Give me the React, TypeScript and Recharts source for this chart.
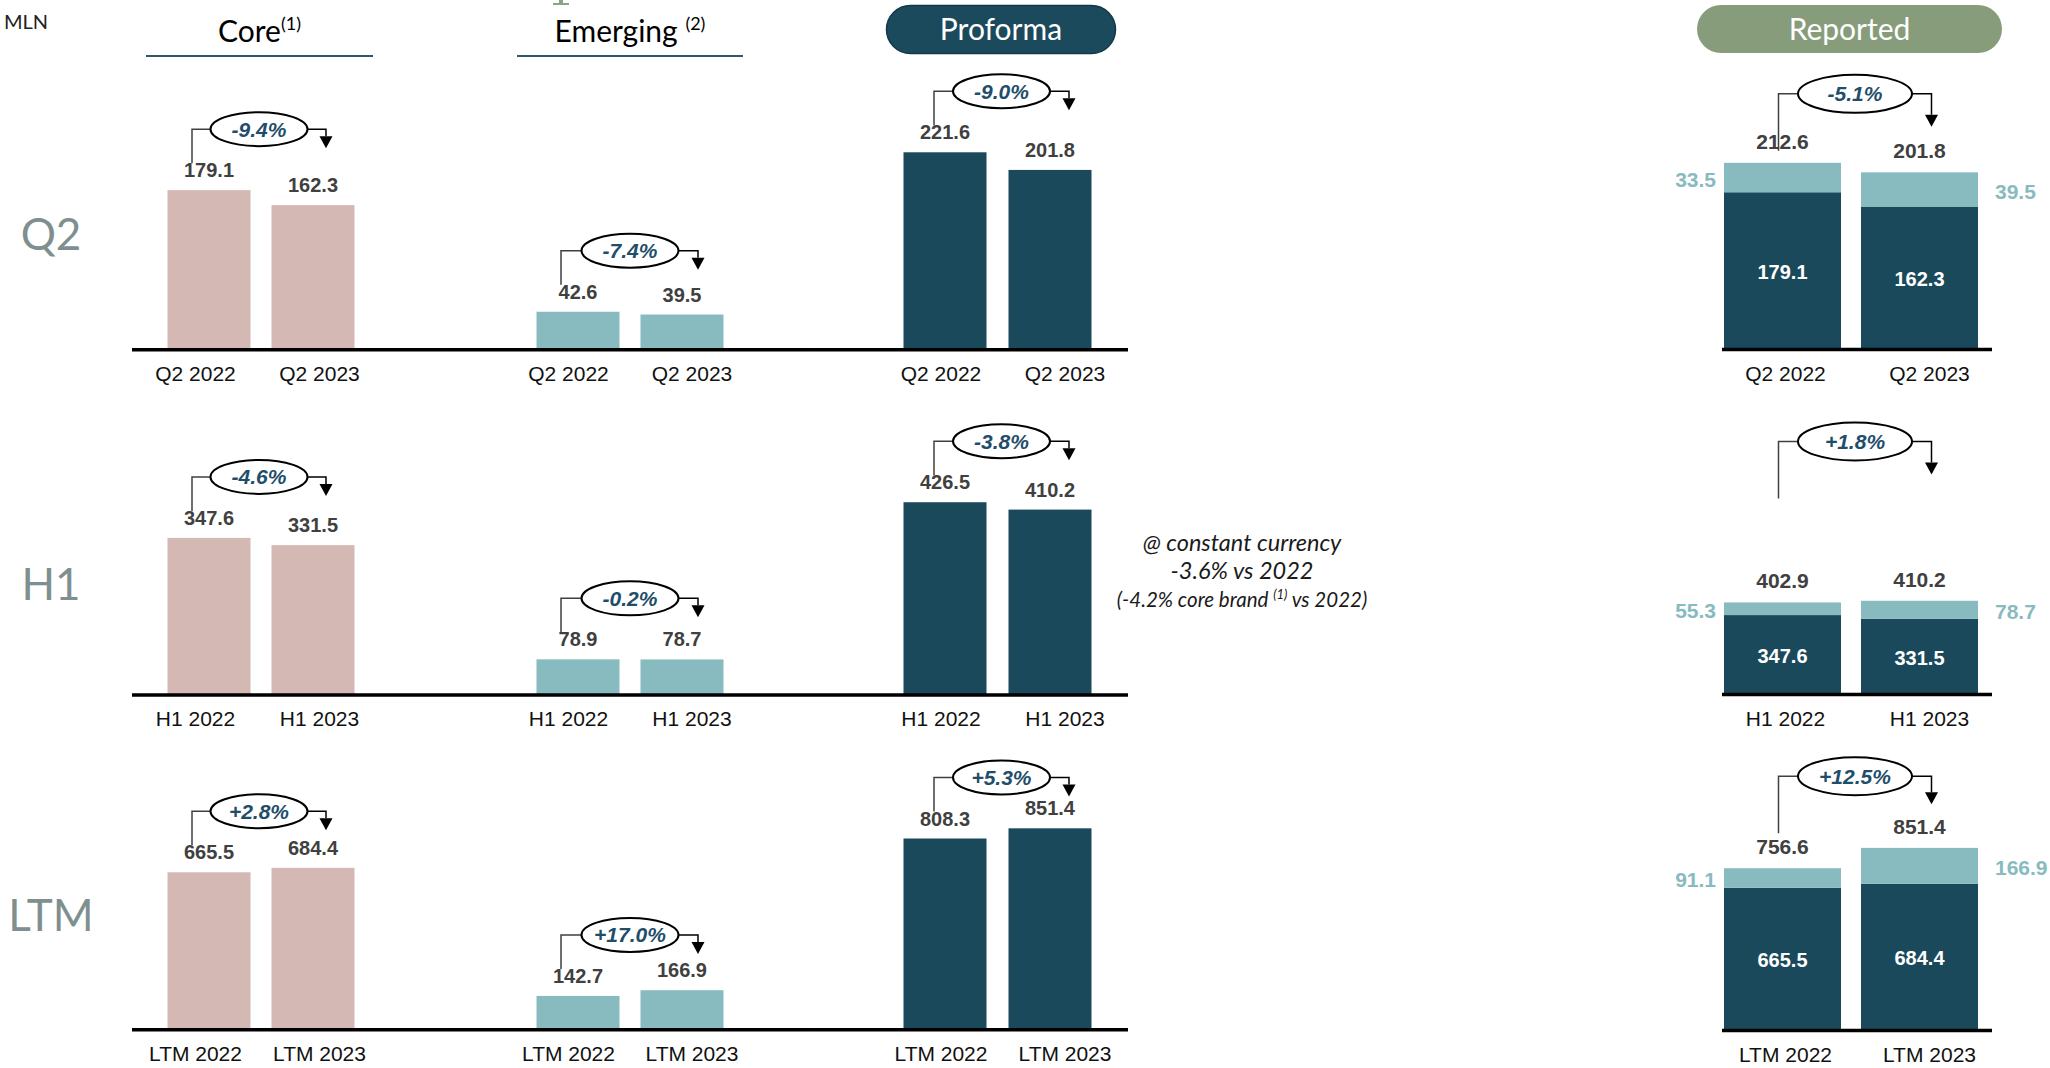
import React from "react";
import { BarChart, Bar, XAxis, YAxis } from "recharts";

// ---------- data ----------
const periods = ["Q2", "H1", "LTM"];
const q2Ticks = ["Q2 2022", "Q2 2023"];
const h1Ticks = ["H1 2022", "H1 2023"];
const ltmTicks = ["LTM 2022", "LTM 2023"];

const coreQ2 = [179.1, 162.3];
const coreH1 = [347.6, 331.5];
const coreLTM = [665.5, 684.4];
const emergingQ2 = [42.6, 39.5];
const emergingH1 = [78.9, 78.7];
const emergingLTM = [142.7, 166.9];
const proformaQ2 = [221.6, 201.8];
const proformaH1 = [426.5, 410.2];
const proformaLTM = [808.3, 851.4];

const reportedCoreQ2 = [179.1, 162.3];
const reportedCoreH1 = [347.6, 331.5];
const reportedCoreLTM = [665.5, 684.4];
const reportedEmergingQ2 = [33.5, 39.5];
const reportedEmergingH1 = [55.3, 78.7];
const reportedEmergingLTM = [91.1, 166.9];
const reportedTotalQ2 = [212.6, 201.8];
const reportedTotalH1 = [402.9, 410.2];
const reportedTotalLTM = [756.6, 851.4];

const coreChange = ["-9.4%", "-4.6%", "+2.8%"];
const emergingChange = ["-7.4%", "-0.2%", "+17.0%"];
const proformaChange = ["-9.0%", "-3.8%", "+5.3%"];
const reportedChange = ["-5.1%", "+1.8%", "+12.5%"];

const noteLines = ["@ constant currency", "-3.6% vs 2022"];

// ---------- styles / layout ----------
const ARIAL = "'Liberation Sans', Arial, sans-serif";
const CAL = "Lato, 'Open Sans', sans-serif";
const CORE_COLOR = "#D3B8B3";
const EMERGING_COLOR = "#88BBC0";
const DARK_COLOR = "#1B495C";
const VALUE_COLOR = "#404040";
const PCT_COLOR = "#1F4E6A";

const MT = 200; // top margin inside each chart
const MS = 70; // side margin
const XH = 50; // x axis height

const rowLayout = [
  { bottom: 349.5, plotH: 222.7, yMax: 250, repBottom: 349.5, repH: 219.5, repMax: 250, labelY: 249.5 },
  { bottom: 694.5, plotH: 226, yMax: 500, repBottom: 694, repH: 228.5, repMax: 1000, labelY: 600 },
  { bottom: 1030, plotH: 224.7, yMax: 950, repBottom: 1030, repH: 214.5, repMax: 1000, labelY: 930.5 },
];

const coreLayout = { plotLeft: 132, plotRight: 445, padL: 24.5, padR: 80.5, barSize: 83, tickDx: [-13, 7], stemDx: -17, arrowDx: 13, ellDx: -2 };
const emergingLayout = { plotLeft: 445, plotRight: 813, padL: 80.5, padR: 79.5, barSize: 83, tickDx: [-9, 10.5], stemDx: -17, arrowDx: 16, ellDx: 0 };
const proformaLayout = { plotLeft: 813, plotRight: 1128, padL: 79.5, padR: 25.5, barSize: 83, tickDx: [-4, 15], stemDx: -11, arrowDx: 19, ellDx: 4 };
const reportedLayout = { plotLeft: 1722, plotRight: 1992, padL: -8, padR: 4, barSize: 117, tickDx: [3, 10], stemDx: -4, arrowDx: 12, ellDx: 4 };

const leftBracket = { rise: 61, stemGap: 27, arrowLen: 19, rx: 48.5, ry: 17 };
const repBracket = [
  { rise: 69, stemGap: 12, arrowLen: 33, rx: 57, ry: 19 },
  { rise: 161, stemGap: 104, arrowLen: 33, rx: 57, ry: 19 },
  { rise: 92, stemGap: 35, arrowLen: 28, rx: 57, ry: 19 },
];

function Bracket({ x1, top, step, cfg, layout, label }: any) {
  const hy = top - cfg.rise;
  const stemX = x1 + layout.stemDx;
  const ecx = x1 + step / 2 + layout.ellDx;
  const ax = x1 + step + layout.arrowDx;
  const tipY = hy + cfg.arrowLen;
  return (
    <g>
      <polyline
        points={`${stemX},${top - cfg.stemGap} ${stemX},${hy} ${ecx - cfg.rx},${hy}`}
        fill="none"
        stroke="#404040"
        strokeWidth={1.5}
      />
      <polyline
        points={`${ecx + cfg.rx},${hy} ${ax},${hy} ${ax},${tipY - 12}`}
        fill="none"
        stroke="#000"
        strokeWidth={1.5}
      />
      <polygon points={`${ax - 6.5},${tipY - 12} ${ax + 6.5},${tipY - 12} ${ax},${tipY}`} fill="#000" />
      <ellipse cx={ecx} cy={hy} rx={cfg.rx} ry={cfg.ry} fill="#fff" stroke="#000" strokeWidth={2} />
      <text
        x={ecx}
        y={hy + 7.5}
        textAnchor="middle"
        fontFamily={ARIAL}
        fontStyle="italic"
        fontWeight="bold"
        fontSize={21}
        fill={PCT_COLOR}
      >
        {label}
      </text>
    </g>
  );
}

function makeTick(dx: number[], yPos: number) {
  return (props: any) => {
    const { x, payload, index } = props;
    return (
      <text x={x + (dx[index] || 0)} y={yPos} textAnchor="middle" fontFamily={ARIAL} fontSize={21} fill="#111">
        {payload.value}
      </text>
    );
  };
}

function bandStep(layout: any) {
  return (layout.plotRight - layout.plotLeft - layout.padL - layout.padR) / 2;
}

function SimplePanel({ ticks, values, change, color, layout, row }: any) {
  const data = ticks.map((t: string, i: number) => ({ name: t, value: values[i] }));
  const width = layout.plotRight - layout.plotLeft + 2 * MS;
  const height = MT + row.plotH + XH;
  const step = bandStep(layout);
  const shape = (p: any) => {
    const { x, y, width: w, height: h, index, payload } = p;
    const cx = x + w / 2;
    return (
      <g>
        <rect x={x} y={y} width={w} height={h} fill={color} />
        <text x={cx} y={y - 13} textAnchor="middle" fontFamily={ARIAL} fontWeight="bold" fontSize={20} fill={VALUE_COLOR}>
          {payload.value.toFixed(1)}
        </text>
        {index === 0 ? <Bracket x1={cx} top={y} step={step} cfg={leftBracket} layout={layout} label={change} /> : null}
      </g>
    );
  };
  return (
    <div style={{ position: "absolute", left: layout.plotLeft - MS, top: row.bottom - row.plotH - MT }}>
      <BarChart width={width} height={height} data={data} margin={{ top: MT, right: MS, bottom: 0, left: MS }}>
        <XAxis
          dataKey="name"
          height={XH}
          interval={0}
          axisLine={{ stroke: "#000", strokeWidth: 3.5 }}
          tickLine={false}
          padding={{ left: layout.padL, right: layout.padR }}
          tick={makeTick(layout.tickDx, MT + row.plotH + 31)}
        />
        <YAxis hide domain={[0, row.yMax]} tickCount={2} />
        <Bar dataKey="value" fill={color} barSize={layout.barSize} isAnimationActive={false} shape={shape} />
      </BarChart>
    </div>
  );
}

function ReportedPanel({ ticks, core, emerging, totals, change, row, cfg }: any) {
  const layout = reportedLayout;
  const data = ticks.map((t: string, i: number) => ({ name: t, core: core[i], emerging: emerging[i], total: totals[i] }));
  const width = layout.plotRight - layout.plotLeft + 2 * MS;
  const height = MT + row.repH + XH;
  const step = bandStep(layout);
  const darkShape = (p: any) => {
    const { x, y, width: w, height: h, payload } = p;
    return (
      <g>
        <rect x={x} y={y} width={w} height={h} fill={DARK_COLOR} />
        <text x={x + w / 2} y={y + h / 2 + 8} textAnchor="middle" fontFamily={ARIAL} fontWeight="bold" fontSize={20} fill="#fff">
          {payload.core.toFixed(1)}
        </text>
      </g>
    );
  };
  const lightShape = (p: any) => {
    const { x, y, width: w, height: h, index, payload } = p;
    const cx = x + w / 2;
    return (
      <g>
        <rect x={x} y={y} width={w} height={h} fill={EMERGING_COLOR} />
        <text
          x={index === 0 ? x - 8 : x + w + 17}
          y={y + h / 2 + 9}
          textAnchor={index === 0 ? "end" : "start"}
          fontFamily={ARIAL}
          fontWeight="bold"
          fontSize={21}
          fill={EMERGING_COLOR}
        >
          {payload.emerging.toFixed(1)}
        </text>
        <text x={cx} y={y - 14} textAnchor="middle" fontFamily={ARIAL} fontWeight="bold" fontSize={21} fill={VALUE_COLOR}>
          {payload.total.toFixed(1)}
        </text>
        {index === 0 ? <Bracket x1={cx} top={y} step={step} cfg={cfg} layout={layout} label={change} /> : null}
      </g>
    );
  };
  return (
    <div style={{ position: "absolute", left: layout.plotLeft - MS, top: row.repBottom - row.repH - MT }}>
      <BarChart width={width} height={height} data={data} margin={{ top: MT, right: MS, bottom: 0, left: MS }}>
        <XAxis
          dataKey="name"
          height={XH}
          interval={0}
          axisLine={{ stroke: "#000", strokeWidth: 3.5 }}
          tickLine={false}
          padding={{ left: layout.padL, right: layout.padR }}
          tick={makeTick(layout.tickDx, MT + row.repH + 31)}
        />
        <YAxis hide domain={[0, row.repMax]} tickCount={2} />
        <Bar dataKey="core" stackId="r" fill={DARK_COLOR} barSize={layout.barSize} isAnimationActive={false} shape={darkShape} />
        <Bar dataKey="emerging" stackId="r" fill={EMERGING_COLOR} barSize={layout.barSize} isAnimationActive={false} shape={lightShape} />
      </BarChart>
    </div>
  );
}

function Overlay() {
  return (
    <svg width={2050} height={1068} style={{ position: "absolute", left: 0, top: 0 }}>
      {/* cut-off glyph at top */}
      <rect x={559} y={0} width={4} height={4} fill="#8AA585" />
      <rect x={553} y={3} width={16} height={2} fill="#8AA585" />
      <text x={4} y={29} fontFamily={CAL} fontSize={20} fill="#222">MLN</text>
      <text x={259.5} y={42} textAnchor="middle" fontFamily={CAL} fontSize={30} fill="#000">
        Core<tspan dy={-12} fontSize={18}>(1)</tspan>
      </text>
      <line x1={146} x2={373} y1={56} y2={56} stroke="#2F5868" strokeWidth={2} />
      <text x={630} y={42} textAnchor="middle" fontFamily={CAL} fontSize={30} fill="#000">
        Emerging <tspan dy={-12} fontSize={18}>(2)</tspan>
      </text>
      <line x1={517} x2={743} y1={56} y2={56} stroke="#2F5868" strokeWidth={2} />
      <rect x={886.5} y={5.5} width={229} height={48} rx={24} fill="#1B4A5C" stroke="#12394A" strokeWidth={1.5} />
      <text x={1001} y={40} textAnchor="middle" fontFamily={CAL} fontSize={30} fill="#fff">Proforma</text>
      <rect x={1697} y={5} width={305} height={48} rx={24} fill="#879C7A" />
      <text x={1849.5} y={40} textAnchor="middle" fontFamily={CAL} fontSize={30} fill="#fff">Reported</text>
      {periods.map((p, i) => (
        <text key={p} x={51} y={rowLayout[i].labelY} textAnchor="middle" fontFamily={CAL} fontSize={44} fill="#7F8F8F">
          {p}
        </text>
      ))}
      <text x={1242} y={551} textAnchor="middle" fontFamily={CAL} fontStyle="italic" fontSize={23.5} fill="#1a1a1a">
        {noteLines[0]}
      </text>
      <text x={1242} y={579} textAnchor="middle" fontFamily={CAL} fontStyle="italic" fontSize={23.5} fill="#1a1a1a">
        {noteLines[1]}
      </text>
      <text x={1242} y={607} textAnchor="middle" fontFamily={CAL} fontStyle="italic" fontSize={20.5} fill="#1a1a1a">
        (-4.2% core brand <tspan dy={-8} fontSize={13}>(1)</tspan>
        <tspan dy={8}> vs 2022)</tspan>
      </text>
    </svg>
  );
}

export default function App() {
  const ticksByRow = [q2Ticks, h1Ticks, ltmTicks];
  const coreByRow = [coreQ2, coreH1, coreLTM];
  const emergingByRow = [emergingQ2, emergingH1, emergingLTM];
  const proformaByRow = [proformaQ2, proformaH1, proformaLTM];
  const repCoreByRow = [reportedCoreQ2, reportedCoreH1, reportedCoreLTM];
  const repEmByRow = [reportedEmergingQ2, reportedEmergingH1, reportedEmergingLTM];
  const repTotByRow = [reportedTotalQ2, reportedTotalH1, reportedTotalLTM];
  return (
    <div style={{ position: "absolute", left: 0, top: 0, width: 2050, height: 1068, background: "#fff", overflow: "hidden" }}>
      <Overlay />
      {periods.map((p, i) => (
        <React.Fragment key={p}>
          <SimplePanel ticks={ticksByRow[i]} values={coreByRow[i]} change={coreChange[i]} color={CORE_COLOR} layout={coreLayout} row={rowLayout[i]} />
          <SimplePanel ticks={ticksByRow[i]} values={emergingByRow[i]} change={emergingChange[i]} color={EMERGING_COLOR} layout={emergingLayout} row={rowLayout[i]} />
          <SimplePanel ticks={ticksByRow[i]} values={proformaByRow[i]} change={proformaChange[i]} color={DARK_COLOR} layout={proformaLayout} row={rowLayout[i]} />
          <ReportedPanel
            ticks={ticksByRow[i]}
            core={repCoreByRow[i]}
            emerging={repEmByRow[i]}
            totals={repTotByRow[i]}
            change={reportedChange[i]}
            row={rowLayout[i]}
            cfg={repBracket[i]}
          />
        </React.Fragment>
      ))}
    </div>
  );
}
